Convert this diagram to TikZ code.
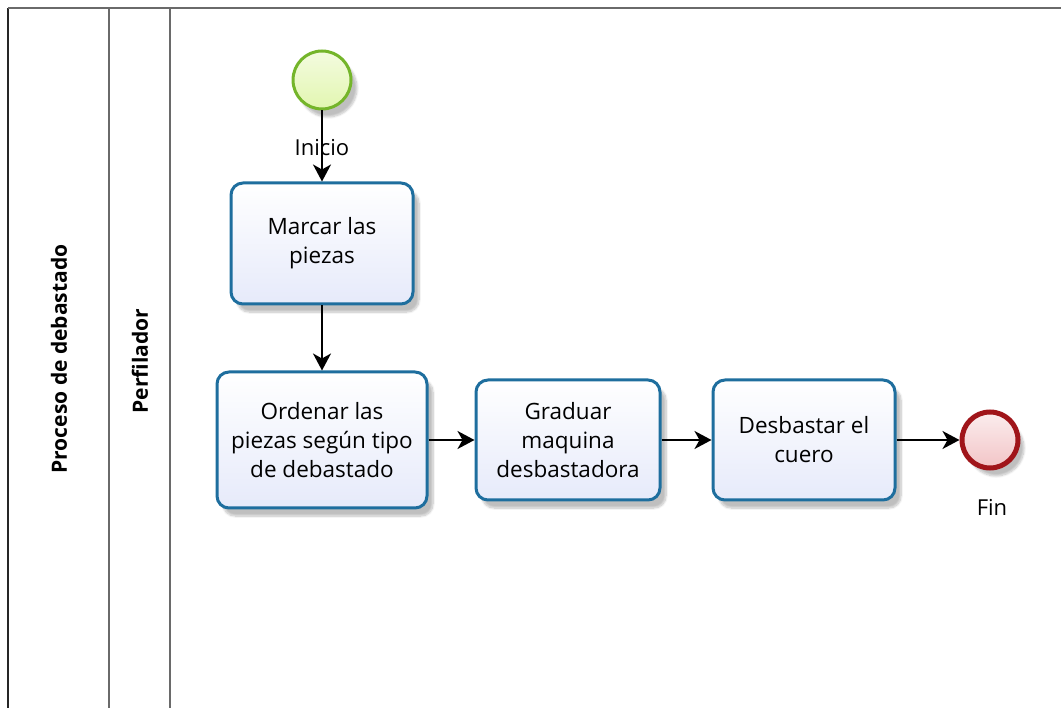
\documentclass[tikz,border=0pt]{standalone}
\usepackage{fontspec}
\setmainfont{Open Sans}
\usetikzlibrary{arrows.meta,shadows.blur}

\definecolor{taskline}{HTML}{1E6E9E}
\definecolor{taskfill}{HTML}{E6EAFA}
\definecolor{startline}{HTML}{74B52A}
\definecolor{startfill}{HTML}{E2F6B0}
\definecolor{endline}{HTML}{A0151A}
\definecolor{endfill}{HTML}{F2C4C6}
\definecolor{laneline}{HTML}{6A6A6A}

\tikzset{
  lane/.style={draw=laneline, line width=1.6pt},
  task/.style={draw=taskline, line width=3pt, rounded corners=12pt,
    top color=white, bottom color=taskfill, align=center,
    font=\fontsize{22.5}{29}\selectfont, inner sep=0pt,
    blur shadow={shadow xshift=6pt, shadow yshift=-8pt, shadow blur steps=8, shadow opacity=25}},
  startev/.style={circle, draw=startline, line width=3pt, minimum size=58pt,
    top color=startfill!40!white, bottom color=startfill, inner sep=0pt,
    blur shadow={shadow xshift=6pt, shadow yshift=-8pt, shadow blur steps=8, shadow opacity=25}},
  endev/.style={circle, draw=endline, line width=5pt, minimum size=56pt,
    top color=endfill!30!white, bottom color=endfill, inner sep=0pt,
    blur shadow={shadow xshift=6pt, shadow yshift=-8pt, shadow blur steps=8, shadow opacity=25}},
  evlabel/.style={font=\fontsize{22}{24}\selectfont, inner sep=0pt},
  lanetitle/.style={rotate=90, font=\fontsize{21}{24}\selectfont\bfseries, inner sep=0pt},
  flow/.style={line width=2pt, -{Stealth[length=17pt, width=18pt, inset=5pt]}}
}

\begin{document}
\begin{tikzpicture}[x=1pt, y=-1pt]
  \useasboundingbox (0,0) rectangle (1061,708);

  % pool and lane borders
  \draw[lane, draw=black!85] (8,708) -- (8,8);
  \draw[lane] (8,8) -- (1061,8);
  \draw[lane] (109,8) -- (109,708);
  \draw[lane] (170,8) -- (170,708);

  \node[lanetitle] (pool) at (59,359) {Proceso de debastado};
  \node[lanetitle] (lanename) at (140,361) {Perfilador};

  % events
  \node[startev] (inicio) at (322,80) {};
  \node[evlabel] (inicioL) at (322,148) {Inicio};
  \node[endev] (fin) at (990,440) {};
  \node[evlabel] (finL) at (992,507) {Fin};

  % tasks
  \node[task, minimum width=182pt, minimum height=121pt] (marcar) at (322,243.5) {Marcar las\\piezas};
  \node[task, minimum width=210pt, minimum height=136pt] (ordenar) at (322,440) {Ordenar las\\piezas según tipo\\de debastado};
  \node[task, minimum width=184pt, minimum height=120pt] (graduar) at (568,440) {Graduar\\maquina\\desbastadora};
  \node[task, minimum width=182pt, minimum height=120pt] (desbastar) at (804,440) {Desbastar el\\cuero};

  % sequence flows
  \draw[flow] (inicio) -- (marcar);
  \draw[flow] (marcar) -- (ordenar);
  \draw[flow] (ordenar) -- (graduar);
  \draw[flow] (graduar) -- (desbastar);
  \draw[flow] (desbastar) -- (fin);
\end{tikzpicture}
\end{document}
